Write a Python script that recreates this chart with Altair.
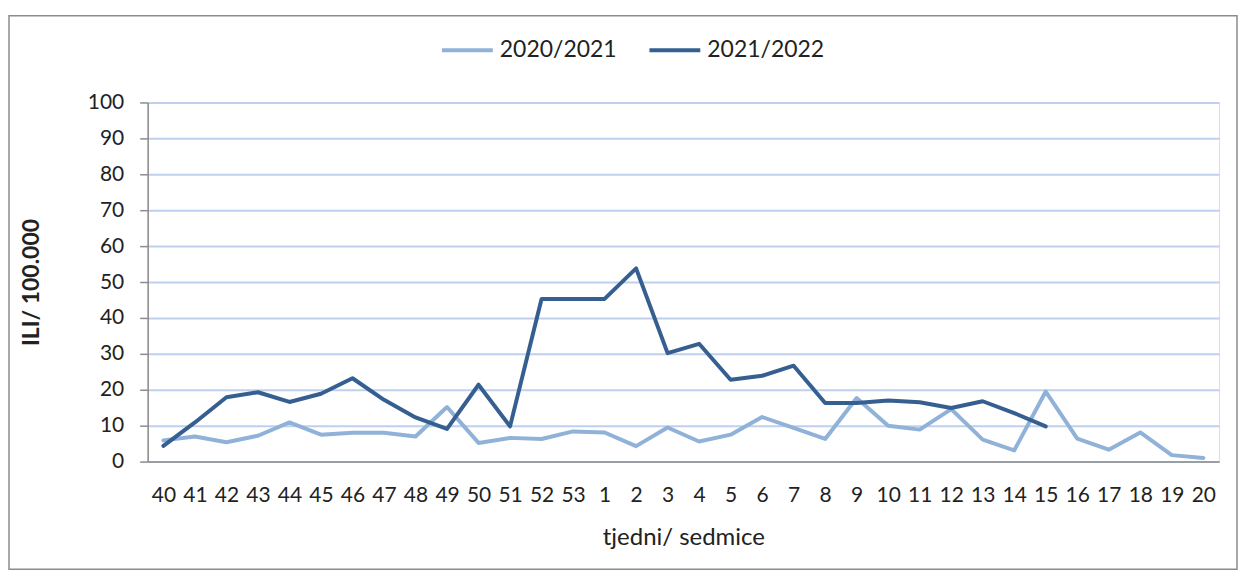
import altair as alt
import pandas as pd

weeks = [str(w) for w in range(40, 54)] + [str(w) for w in range(1, 21)]

s2020 = [5.9, 7.0, 5.4, 7.2, 10.9, 7.5, 8.0, 8.0, 7.0, 15.2, 5.2, 6.6, 6.3, 8.4,
         8.1, 4.3, 9.5, 5.6, 7.5, 12.4, 9.4, 6.3, 17.7, 10.0, 8.9, 14.6, 6.1, 3.1,
         19.5, 6.4, 3.3, 8.1, 1.8, 1.0]
s2021 = [4.4, 10.9, 17.9, 19.3, 16.6, 18.9, 23.2, 17.2, 12.3, 9.1, 21.4, 9.8, 45.3, 45.3,
         45.3, 53.8, 30.2, 32.8, 22.8, 23.9, 26.7, 16.3, 16.3, 17.0, 16.5, 14.9, 16.8, 13.5,
         9.8]

series_names = ["2020/2021", "2021/2022"]
series_colors = ["#91b2d8", "#365f91"]

rows = []
for w, v in zip(weeks, s2020):
    rows.append({"week": w, "value": v, "season": series_names[0]})
for w, v in zip(weeks, s2021):
    rows.append({"week": w, "value": v, "season": series_names[1]})
df = pd.DataFrame(rows)

FONT = "Lato"

lines = alt.Chart(df).mark_line(strokeWidth=4, strokeJoin="round", strokeCap="round").encode(
    x=alt.X("week:N", sort=weeks,
            scale=alt.Scale(type="point", padding=0.5),
            axis=alt.Axis(title="tjedni/ sedmice", labelAngle=0, ticks=False, tickSize=0,
                          labelPadding=34, labelBaseline="middle", labelFontSize=21,
                          labelColor="#222222", titleFontSize=24, titleFontWeight="normal",
                          titleColor="#222222", titlePadding=20, grid=False,
                          domainColor="#8c8c8c", domainWidth=1.5, labelFont=FONT,
                          titleFont=FONT)),
    y=alt.Y("value:Q", scale=alt.Scale(domain=[0, 100], nice=False),
            axis=alt.Axis(title="ILI/ 100.000", values=list(range(0, 101, 10)),
                          tickSize=8, tickColor="#8c8c8c", tickWidth=1.5,
                          labelPadding=16, labelFontSize=21, labelColor="#222222",
                          labelFont=FONT, titleFont=FONT, titleFontSize=23,
                          titleFontWeight="bold", titleColor="#222222",
                          titleAngle=-90, titleX=-116, titleY=180,
                          titleAlign="center", titleBaseline="middle",
                          grid=True, gridColor="#bfd0ec", gridWidth=2,
                          domainColor="#8c8c8c", domainWidth=1.5)),
    color=alt.Color("season:N", sort=series_names,
                    scale=alt.Scale(domain=series_names, range=series_colors),
                    legend=alt.Legend(title=None, orient="none", direction="horizontal",
                                      legendX=293, legendY=-80, symbolType="stroke",
                                      symbolSize=2600, symbolStrokeWidth=4,
                                      labelFontSize=23, labelFont=FONT, labelColor="#222222",
                                      columnPadding=24, labelOffset=5, padding=0)),
    order=alt.Order("season:N"),
)

frame = alt.Chart(pd.DataFrame({"a": [0]})).mark_rect(
    fill=None, stroke="#8c8c8c", strokeWidth=1.5
).encode(
    x=alt.value(-139), x2=alt.value(1092), y=alt.value(-87), y2=alt.value(468)
)

chart = alt.layer(frame, lines).properties(
    width=1074, height=360,
    autosize=alt.AutoSizeParams(type="none"),
    padding={"left": 140, "top": 94, "right": 20, "bottom": 110},
).configure_view(stroke=None).configure(background="white")

chart.save("out.html", embed_options={"renderer": "svg", "actions": False})
